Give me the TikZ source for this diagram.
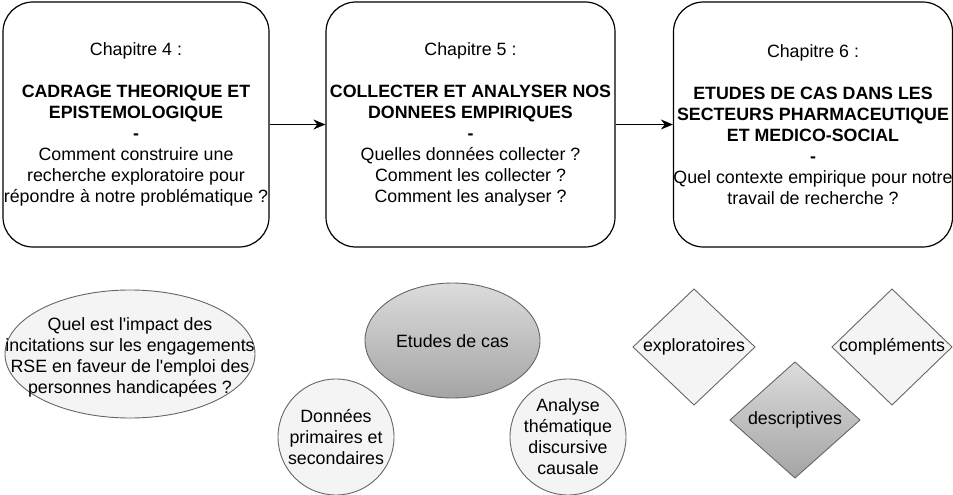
\documentclass[tikz,border=0pt]{standalone}
\usepackage{fontspec}
\setmainfont{Liberation Sans}
\usetikzlibrary{arrows.meta}
\definecolor{trait}{HTML}{666666}
\definecolor{clairfond}{HTML}{F4F4F4}
\definecolor{gradhaut}{HTML}{DCDCDC}
\definecolor{gradbas}{HTML}{A4A4A4}
\tikzset{
    chapitre/.style={draw, line width=1.2pt, rounded corners=30pt, align=center,
        minimum height=245pt, inner sep=0pt},
    fleche/.style={-{Stealth[length=12pt,width=10pt]}, line width=1.2pt},
    clair/.style={draw=trait, fill=clairfond, line width=0.9pt},
    fonce/.style={draw=trait, top color=gradhaut, bottom color=gradbas, line width=0.9pt},
    texte/.style={align=center, inner sep=0pt}
}
\begin{document}
\begin{tikzpicture}[x=1pt, y=-1pt, font=\fontsize{17.8}{21}\selectfont]
            \useasboundingbox (0,0) rectangle (953,495);
            % Three chapter boxes
            \node[chapitre, minimum width=266pt] (chap4) at (136,124.5)
                {Chapitre 4 :\\~\\\textbf{CADRAGE THEORIQUE ET}\\\textbf{EPISTEMOLOGIQUE}\\\textbf{-}\\Comment construire une\\recherche exploratoire pour\\répondre à notre problématique ?};
            \node[chapitre, minimum width=289pt] (chap5) at (470.5,124.5)
                {Chapitre 5 :\\~\\\textbf{COLLECTER ET ANALYSER NOS}\\\textbf{DONNEES EMPIRIQUES}\\\textbf{-}\\Quelles données collecter ?\\Comment les collecter ?\\Comment les analyser ?};
            \node[chapitre, minimum width=276pt] (chap6) at (813,124.5)
                {Chapitre 6 :\\~\\\textbf{ETUDES DE CAS DANS LES}\\\textbf{SECTEURS PHARMACEUTIQUE}\\\textbf{ET MEDICO-SOCIAL}\\\textbf{-}\\Quel contexte empirique pour notre\\travail de recherche ?};
            \draw[fleche] (chap4) -- (chap5);
            \draw[fleche] (chap5) -- (chap6);
            % Question
            \draw[clair] (130,354) ellipse [x radius=125, y radius=64];
            \node[texte] (question) at (130,357)
                {Quel est l\textquotesingle impact des\\incitations sur les engagements\\RSE en faveur de l\textquotesingle emploi des\\personnes handicapées ?};
            % Method
            \draw[fonce] (452.5,340.5) ellipse [x radius=87.5, y radius=57.5];
            \node[texte] (etudes) at (452.5,341) {Etudes de cas};
            \draw[clair] (336,437) circle [radius=58];
            \node[texte] (donnees) at (336,437) {Données\\primaires et\\secondaires};
            \draw[clair] (568,437) circle [radius=58];
            \node[texte] (analyse) at (568,437) {Analyse\\thématique\\discursive\\causale};
            % Diamonds
            \draw[clair] (694,289) -- ++(61,58) -- ++(-61,58) -- ++(-61,-58) -- cycle;
            \node[texte] (explo) at (694,347) {exploratoires};
            \draw[clair] (892,289) -- ++(60,58) -- ++(-60,58) -- ++(-60,-58) -- cycle;
            \node[texte] (complements) at (892,347) {compléments};
            \draw[fonce] (795,362) -- ++(65,58) -- ++(-65,58) -- ++(-65,-58) -- cycle;
            \node[texte] (descr) at (795,420) {descriptives};
\end{tikzpicture}
\end{document}
